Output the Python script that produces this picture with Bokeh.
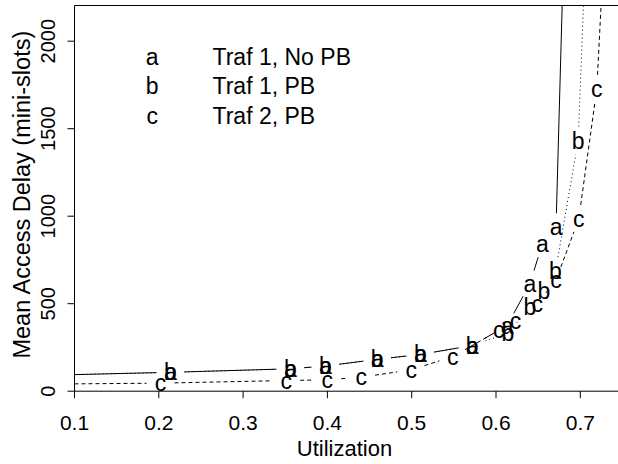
import math
from bokeh.plotting import figure
from bokeh.models import Range1d
from bokeh.core.properties import value
from bokeh.embed import file_html
from bokeh.resources import INLINE

# ---------------- data ----------------
util_a = [0.05, 0.2139, 0.3562, 0.3977, 0.4591, 0.5104, 0.5718, 0.6132, 0.6401, 0.6550, 0.6712, 0.680]
delay_a = [89, 108, 128, 144, 182, 210, 261, 375, 613, 842, 937, 2467]

util_b = [0.05, 0.2139, 0.3562, 0.3977, 0.4591, 0.5104, 0.5718, 0.6140, 0.6401, 0.6567, 0.6706, 0.6975, 0.710]
delay_b = [89, 108, 128, 144, 182, 210, 261, 331, 480, 575, 687, 1432, 2975]

util_c = [0.05, 0.2020, 0.3511, 0.3998, 0.4401, 0.4994, 0.5487, 0.6033, 0.6231, 0.6489, 0.6712, 0.6982, 0.7196, 0.730]
delay_c = [40, 46, 61, 65, 80, 122, 198, 347, 404, 499, 635, 985, 1728, 2711]

series_chars = ["a", "b", "c"]
series_labels = ["Traf 1, No PB", "Traf 1, PB", "Traf 2, PB"]
x_ticks = [0.1, 0.2, 0.3, 0.4, 0.5, 0.6, 0.7]
x_tick_labels = ["0.1", "0.2", "0.3", "0.4", "0.5", "0.6", "0.7"]
y_ticks = [0, 500, 1000, 1500, 2000]
y_tick_labels = ["0", "500", "1000", "1500", "2000"]
x_title = "Utilization"
y_title = "Mean Access Delay (mini-slots)"

# ---------------- layout (R-style box drawn inside a full-canvas frame) ----------------
W, H = 618, 464
PX_LEFT, PY_BOTTOM, PY_TOP = 74.0, 390.7, 5.0   # pixel position of box edges
KX = 843.0            # pixels per unit of utilization
KY = 87.5 / 500.0     # pixels per mini-slot
BX0 = 0.1             # utilization at the box's left edge
BY0 = 0.0             # delay at the box's bottom edge
FONT = "Liberation Sans"
MID = 0.3465          # baseline -> middle of the em box, in font sizes


def dx(px):  # canvas pixel -> utilization
    return BX0 + (px - PX_LEFT) / KX


def dy(py):  # canvas pixel -> delay
    return BY0 + (PY_BOTTOM - py) / KY


BX1, BY1 = dx(W), dy(PY_TOP)

p = figure(width=W, height=H, output_backend="svg", toolbar_location=None,
           x_range=Range1d(dx(0), dx(W)), y_range=Range1d(dy(H), dy(0)),
           min_border_left=0, min_border_right=0, min_border_top=0,
           min_border_bottom=0)
p.axis.visible = False
p.grid.visible = False
p.outline_line_color = None
p.background_fill_color = "white"
p.border_fill_color = "white"

# box (left, bottom, top)
p.segment(x0=[BX0, BX0, BX0], y0=[BY0, BY0, BY1], x1=[BX0, BX1, BX1], y1=[BY1, BY0, BY1],
          line_color="black", line_width=1)

# ticks
TICK = 7.0
p.segment(x0=x_ticks, y0=[BY0] * len(x_ticks), x1=x_ticks,
          y1=[BY0 - TICK / KY] * len(x_ticks), line_color="black", line_width=1)
p.segment(x0=[BX0] * len(y_ticks), y0=y_ticks, x1=[BX0 - TICK / KX] * len(y_ticks),
          y1=y_ticks, line_color="black", line_width=1)

# tick labels and titles (anchored at the middle of the text)
p.text(x=x_ticks, y=[dy(429.5 - MID * 21)] * len(x_ticks), text=x_tick_labels,
       text_align="center", text_baseline="middle", text_font=value(FONT),
       text_font_size="21px", text_color="black")
p.text(x=[dx(54 - MID * 20)] * len(y_ticks), y=y_ticks, text=y_tick_labels,
       angle=math.pi / 2, text_align="center", text_baseline="middle",
       text_font=value(FONT), text_font_size="20px", text_color="black")
p.text(x=[dx(344)], y=[dy(455.7 - MID * 22)], text=[x_title], text_align="center",
       text_baseline="middle", text_font=value(FONT), text_font_size="22px",
       text_color="black")
p.text(x=[dx(29.5 - MID * 23.5)], y=[dy(193.5)], text=[y_title], angle=math.pi / 2,
       text_align="center", text_baseline="middle", text_font=value(FONT),
       text_font_size="23.5px", text_color="black")

# ---------------- lines with gaps around the letters (R type="b") ----------------
GAP = 14.0


def clip(x0, y0, x1, y1):
    """Liang-Barsky clip of a segment to the box."""
    t0, t1 = 0.0, 1.0
    ddx, ddy = x1 - x0, y1 - y0
    for pp, q in ((-ddx, x0 - BX0), (ddx, BX1 - x0), (-ddy, y0 - BY0), (ddy, BY1 - y0)):
        if pp == 0:
            if q < 0:
                return None
            continue
        r = q / pp
        if pp < 0:
            t0 = max(t0, r)
        else:
            t1 = min(t1, r)
        if t0 > t1:
            return None
    return (x0 + t0 * ddx, y0 + t0 * ddy, x0 + t1 * ddx, y0 + t1 * ddy)


def gapped(xs, ys):
    sx = [x * KX for x in xs]
    sy = [y * KY for y in ys]
    out = ([], [], [], [])
    for i in range(len(xs) - 1):
        ddx, ddy = sx[i + 1] - sx[i], sy[i + 1] - sy[i]
        d = math.hypot(ddx, ddy)
        if d <= 2 * GAP:
            continue
        ux, uy = ddx / d, ddy / d
        seg = clip((sx[i] + GAP * ux) / KX, (sy[i] + GAP * uy) / KY,
                   (sx[i + 1] - GAP * ux) / KX, (sy[i + 1] - GAP * uy) / KY)
        if seg is None:
            continue
        for k in range(4):
            out[k].append(seg[k])
    return out


series = [(util_c, delay_c, "4 3"), (util_b, delay_b, "1 3"), (util_a, delay_a, "solid")]
for xs, ys, dash in series:
    x0, y0, x1, y1 = gapped(xs, ys)
    p.segment(x0=x0, y0=y0, x1=x1, y1=y1, line_color="black", line_width=1,
              line_dash=dash)

# letters only where the point lies inside the box
for (xs, ys), ch in zip([(util_a, delay_a), (util_b, delay_b), (util_c, delay_c)], series_chars):
    keep = [(x, y) for x, y in zip(xs, ys) if BX0 <= x <= BX1 and BY0 <= y <= BY1]
    p.text(x=[k[0] for k in keep], y=[k[1] for k in keep], text=[ch] * len(keep),
           text_align="center", text_baseline="middle", text_font=value(FONT),
           text_font_size="23px", text_color="black")

# ---------------- legend (no box) ----------------
rows = range(len(series_chars))
leg_y = [dy(64 + 29.5 * i - MID * 23) for i in rows]
p.text(x=[dx(151.7)] * len(series_chars), y=leg_y,
       text=series_chars, text_align="center", text_baseline="middle",
       text_font=value(FONT), text_font_size="23px", text_color="black")
p.text(x=[dx(212)] * len(series_labels), y=leg_y,
       text=series_labels, text_align="left", text_baseline="middle",
       text_font=value(FONT), text_font_size="23px", text_color="black")

open("out.html", "w").write(file_html(p, INLINE))
